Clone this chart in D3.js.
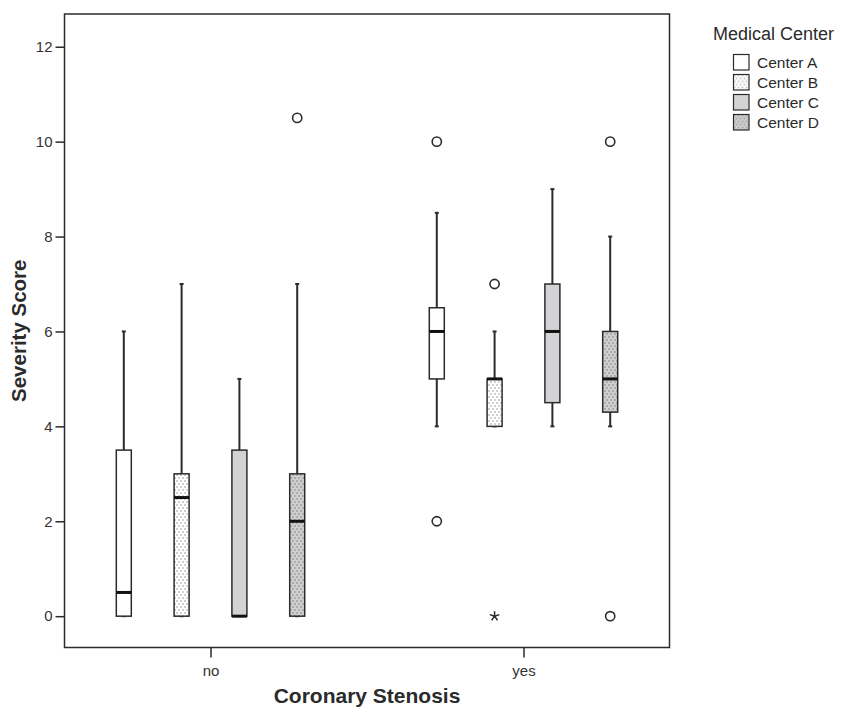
<!DOCTYPE html>
<html>
<head>
<meta charset="utf-8">
<script src="https://cdn.jsdelivr.net/npm/d3@7"></script>
<style>
  body { margin: 0; background: #fff; }
  svg { display: block; font-family: "Liberation Sans", Arial, sans-serif; }
</style>
</head>
<body>
<svg id="chart" width="854" height="707"></svg>
<script>
// ---- data ----
const groups = ["no", "yes"];
const centers = ["Center A", "Center B", "Center C", "Center D"];
const yTicks = [0, 2, 4, 6, 8, 10, 12];

// per group, one value per center (A, B, C, D)
const whiskerLowNo  = [0, 0, 0, 0];
const q1No          = [0, 0, 0, 0];
const medianNo      = [0.5, 2.5, 0, 2];
const q3No          = [3.5, 3, 3.5, 3];
const whiskerHighNo = [6, 7, 5, 7];

const whiskerLowYes  = [4, 4, 4, 4];
const q1Yes          = [5, 4, 4.5, 4.3];
const medianYes      = [6, 5, 6, 5];
const q3Yes          = [6.5, 5, 7, 6];
const whiskerHighYes = [8.5, 6, 9, 8];

// outliers: [group, center, value, marker]
const outliers = [
  ["no",  "Center D", 10.5, "o"],
  ["yes", "Center A", 10,   "o"],
  ["yes", "Center A", 2,    "o"],
  ["yes", "Center B", 7,    "o"],
  ["yes", "Center B", 0,    "*"],
  ["yes", "Center D", 10,   "o"],
  ["yes", "Center D", 0,    "o"]
];

// ---- build rows ----
const stats = [];
groups.forEach(g => {
  const lo = g === "no" ? whiskerLowNo : whiskerLowYes;
  const a = g === "no" ? q1No : q1Yes;
  const m = g === "no" ? medianNo : medianYes;
  const b = g === "no" ? q3No : q3Yes;
  const hi = g === "no" ? whiskerHighNo : whiskerHighYes;
  centers.forEach((c, i) => stats.push({group: g, center: c, lo: lo[i], q1: a[i], med: m[i], q3: b[i], hi: hi[i]}));
});

// ---- layout ----
const frame = {left: 64.5, right: 669.5, top: 14, bottom: 647.5};
const svg = d3.select("#chart");
const ink = "#2b2b2b";

const x = d3.scalePoint().domain(groups).range([frame.left, frame.right]).padding(0.4665);
const xi = d3.scalePoint().domain(centers).range([-86.7, 86.7]);
const y = d3.scaleLinear().domain([-0.66, 12.69]).range([frame.bottom, frame.top]);
const boxW = 15;

// patterns
const defs = svg.append("defs");
function dotPattern(id, bg) {
  const p = defs.append("pattern").attr("id", id).attr("patternUnits", "userSpaceOnUse")
    .attr("width", 4).attr("height", 6);
  p.append("rect").attr("width", 4).attr("height", 6).attr("fill", bg);
  p.append("rect").attr("x", 0.5).attr("y", 0.5).attr("width", 1).attr("height", 1).attr("fill", "#444");
  p.append("rect").attr("x", 2.5).attr("y", 3.5).attr("width", 1).attr("height", 1).attr("fill", "#444");
}
dotPattern("dotsB", "#ffffff");
dotPattern("dotsD", "#cfcfd1");
const fills = {"Center A": "#ffffff", "Center B": "url(#dotsB)", "Center C": "#d3d3d5", "Center D": "url(#dotsD)"};

// frame
svg.append("rect")
  .attr("x", frame.left).attr("y", frame.top)
  .attr("width", frame.right - frame.left).attr("height", frame.bottom - frame.top)
  .attr("fill", "none").attr("stroke", ink).attr("stroke-width", 1.5);

// y axis
const yAxis = d3.axisLeft(y).tickValues(yTicks).tickSize(9).tickPadding(3);
const gy = svg.append("g").attr("transform", `translate(${frame.left},0)`).call(yAxis);
gy.select(".domain").remove();
gy.selectAll(".tick line").attr("stroke", ink).attr("stroke-width", 1.5);
gy.selectAll(".tick text").attr("fill", "#333").style("font-size", "15px").style("font-family", "Liberation Sans, Arial, sans-serif");

// x axis
const xAxis = d3.axisBottom(x).tickSize(10).tickPadding(8);
const gx = svg.append("g").attr("transform", `translate(0,${frame.bottom})`).call(xAxis);
gx.select(".domain").remove();
gx.selectAll(".tick line").attr("stroke", ink).attr("stroke-width", 1.5);
gx.selectAll(".tick text").attr("fill", "#333").style("font-size", "15px").style("font-family", "Liberation Sans, Arial, sans-serif");

// axis titles
svg.append("text").attr("x", (frame.left + frame.right) / 2).attr("y", 703)
  .attr("text-anchor", "middle").attr("font-weight", "bold").attr("font-size", 21)
  .attr("fill", ink).text("Coronary Stenosis");
svg.append("text").attr("transform", `translate(26,${(frame.top + frame.bottom) / 2}) rotate(-90)`)
  .attr("text-anchor", "middle").attr("font-weight", "bold").attr("font-size", 20.5)
  .attr("fill", ink).text("Severity Score");

// boxes
const bx = d => x(d.group) + xi(d.center);
const boxes = svg.append("g").selectAll("g").data(stats).join("g");
boxes.append("line")
  .attr("x1", bx).attr("x2", bx).attr("y1", d => y(d.hi)).attr("y2", d => y(d.lo))
  .attr("stroke", ink).attr("stroke-width", 2);
boxes.append("line")
  .attr("x1", d => bx(d) - 2).attr("x2", d => bx(d) + 2).attr("y1", d => y(d.hi)).attr("y2", d => y(d.hi))
  .attr("stroke", ink).attr("stroke-width", 2);
boxes.append("line")
  .attr("x1", d => bx(d) - 2).attr("x2", d => bx(d) + 2).attr("y1", d => y(d.lo)).attr("y2", d => y(d.lo))
  .attr("stroke", ink).attr("stroke-width", 2);
boxes.append("rect")
  .attr("x", d => bx(d) - boxW / 2).attr("width", boxW)
  .attr("y", d => y(d.q3)).attr("height", d => Math.max(0.01, y(d.q1) - y(d.q3)))
  .attr("fill", d => fills[d.center]).attr("stroke", ink).attr("stroke-width", 1.5);
boxes.append("line")
  .attr("x1", d => bx(d) - boxW / 2).attr("x2", d => bx(d) + boxW / 2)
  .attr("y1", d => y(d.med)).attr("y2", d => y(d.med))
  .attr("stroke", "#111").attr("stroke-width", 3);

// outliers
const ox = d => x(d[0]) + xi(d[1]);
svg.append("g").selectAll("circle").data(outliers.filter(d => d[3] === "o")).join("circle")
  .attr("cx", ox).attr("cy", d => y(d[2])).attr("r", 4.6)
  .attr("fill", "none").attr("stroke", ink).attr("stroke-width", 1.6);
// extreme values: thin five-armed asterisk
const starPath = d3.range(5).map(k => {
  const a = -Math.PI / 2 + k * 2 * Math.PI / 5;
  return `M0,0L${(5 * Math.cos(a)).toFixed(2)},${(5 * Math.sin(a)).toFixed(2)}`;
}).join("");
svg.append("g").selectAll("path").data(outliers.filter(d => d[3] === "*")).join("path")
  .attr("transform", d => `translate(${ox(d)},${y(d[2])})`)
  .attr("d", starPath)
  .attr("fill", "none").attr("stroke", ink).attr("stroke-width", 1.5);

// legend
const lg = svg.append("g");
lg.append("text").attr("x", 713).attr("y", 40).attr("font-size", 18).attr("fill", ink).text("Medical Center");
const li = lg.selectAll("g").data(centers).join("g")
  .attr("transform", (d, i) => `translate(733.5,${54.5 + i * 20})`);
li.append("rect").attr("width", 15.5).attr("height", 15.5)
  .attr("fill", d => fills[d]).attr("stroke", ink).attr("stroke-width", 1.2);
li.append("text").attr("x", 23.5).attr("y", 13.5).attr("font-size", 15.5).attr("fill", ink).text(d => d);
</script>
</body>
</html>
